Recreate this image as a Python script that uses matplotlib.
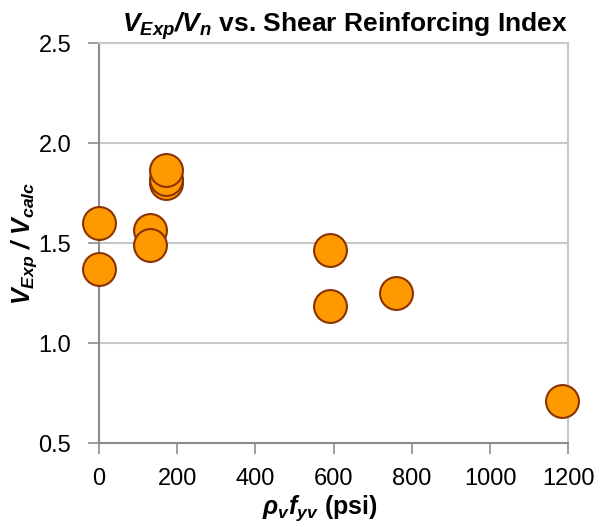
import matplotlib
matplotlib.use("Agg")
import matplotlib.pyplot as plt

# data
shear_index = [0, 0, 130, 130, 172, 172, 172, 590, 590, 760, 1183]
v_ratio = [1.60, 1.37, 1.565, 1.49, 1.80, 1.82, 1.865, 1.465, 1.185, 1.25, 0.71]

plt.rcParams['font.family'] = ['Liberation Sans', 'DejaVu Sans']
plt.rcParams['mathtext.fontset'] = 'custom'
plt.rcParams['mathtext.rm'] = 'Liberation Sans'
plt.rcParams['mathtext.it'] = 'Liberation Sans:italic'
plt.rcParams['mathtext.bf'] = 'Liberation Sans:bold'
plt.rcParams['mathtext.bfit'] = 'Liberation Sans:bold:italic'

fig = plt.figure(figsize=(6, 5.27), dpi=100)
ax = fig.add_axes([0.165, 0.159, 0.782, 0.759])

ax.scatter(shear_index, v_ratio, s=560, c='#FF9900', edgecolors='#8B3300',
           linewidths=1.5, zorder=3, clip_on=False)

ax.set_xlim(0, 1200)
ax.set_ylim(0.5, 2.5)
ax.set_xticks(range(0, 1201, 200))
ax.set_yticks([0.5, 1.0, 1.5, 2.0, 2.5])
ax.set_yticklabels(['0.5', '1.0', '1.5', '2.0', '2.5'])
ax.tick_params(labelsize=17, length=8, width=1.2, color='#8c8c8c')
ax.tick_params(axis='x', pad=10)
ax.tick_params(axis='y', pad=12)
ax.yaxis.grid(True, color='#c8c8c8', linewidth=1.5, zorder=0)
ax.set_axisbelow(True)

for side in ['left', 'bottom']:
    ax.spines[side].set_color('#8c8c8c')
    ax.spines[side].set_linewidth(1.5)
for side in ['top', 'right']:
    ax.spines[side].set_color('#c8c8c8')
    ax.spines[side].set_linewidth(1.5)

ax.set_title(r'$\mathbfit{V}_{\mathbfit{Exp}}\mathbfit{/V}_{\mathbfit{n}}$ vs. Shear Reinforcing Index',
             fontsize=19, fontweight='bold', pad=8, x=0.525)
ax.set_ylabel(r'$\mathbfit{V}_{\mathbfit{Exp}}\mathbfit{\ /\ V}_{\mathbfit{calc}}$',
              fontsize=18)
ax.yaxis.set_label_coords(-0.128, 0.5)
ax.set_xlabel(r'$\mathbfit{ρ}_{\mathbfit{v}}\mathbfit{f}_{\mathbfit{yv}}$ (psi)',
              fontsize=18, fontweight='bold')
ax.xaxis.set_label_coords(0.47, -0.125)

fig.savefig('out.png', dpi=100)
